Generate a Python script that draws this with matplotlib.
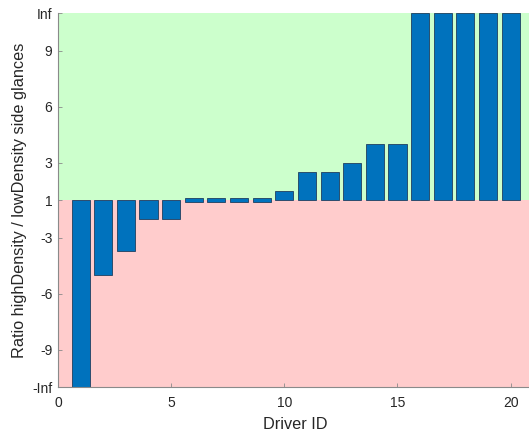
import numpy as np
import matplotlib
matplotlib.use('Agg')
import matplotlib.pyplot as plt

plt.rcParams['font.family'] = ['Liberation Sans', 'DejaVu Sans']

# ratio highDensity / lowDensity per driver (0 -> -Inf, inf -> Inf)
driver_id = np.arange(1, 21)
ratio = np.array([0, 1 / 5, 1 / 3.7, 1 / 2, 1 / 2,
                  1, 1, 1, 1, 1.5,
                  2.5, 2.5, 3, 4, 4,
                  np.inf, np.inf, np.inf, np.inf, np.inf])

tick_labels = ['-Inf', '-9', '-6', '-3', '1', '3', '6', '9', 'Inf']
tick_ratios = [0, 1 / 9, 1 / 6, 1 / 3, 1, 3, 6, 9, np.inf]

Y_LOW, Y_HIGH = -9, 11


def to_axis(r):
    # ratios >= 1 are drawn as is, ratios < 1 as -1/r shifted to join at 1
    r = np.asarray(r, dtype=float)
    with np.errstate(divide='ignore'):
        pos = np.where(r >= 1, r, 2 - 1 / r)
    return np.clip(pos, Y_LOW, Y_HIGH)


pos = to_axis(ratio)
bottom = np.ones_like(pos)
height = pos - 1
# zero-height bars are still shown as a thin sliver around the baseline
flat = height == 0
bottom[flat] = 0.9
height[flat] = 0.2

fig = plt.figure(figsize=(5.29, 4.34), dpi=100)
ax = fig.add_axes([0.1096, 0.1076, 0.8985, 0.8618])

ax.axhspan(1, Y_HIGH, color='#ccffcc', zorder=0, lw=0)
ax.axhspan(Y_LOW, 1, color='#ffcccc', zorder=0, lw=0)

ax.bar(driver_id, height, bottom=bottom, width=0.8, color='#0072bd',
       edgecolor='#1f3f5f', linewidth=0.6, zorder=2, clip_on=False)

ax.set_xlim(0, 21)
ax.set_ylim(Y_LOW, Y_HIGH)
ax.set_xticks([0, 5, 10, 15, 20])
ax.set_yticks(to_axis(tick_ratios))
ax.set_yticklabels(tick_labels)

for s in ['top', 'right']:
    ax.spines[s].set_visible(False)
for s in ['left', 'bottom']:
    ax.spines[s].set_color('#8a8a8a')
    ax.spines[s].set_linewidth(0.8)
ax.tick_params(direction='in', length=3, width=0.6, color='#8a8a8a',
               labelsize=10, labelcolor='#262626')
ax.tick_params(axis='x', pad=6)
ax.tick_params(axis='y', pad=4)

ax.set_xlabel('Driver ID', fontsize=11.7, color='#262626', labelpad=5)
ax.set_ylabel('Ratio highDensity / lowDensity side glances', fontsize=11.7,
              color='#262626', labelpad=4)

fig.savefig('out.png', dpi=100)
plt.close(fig)
